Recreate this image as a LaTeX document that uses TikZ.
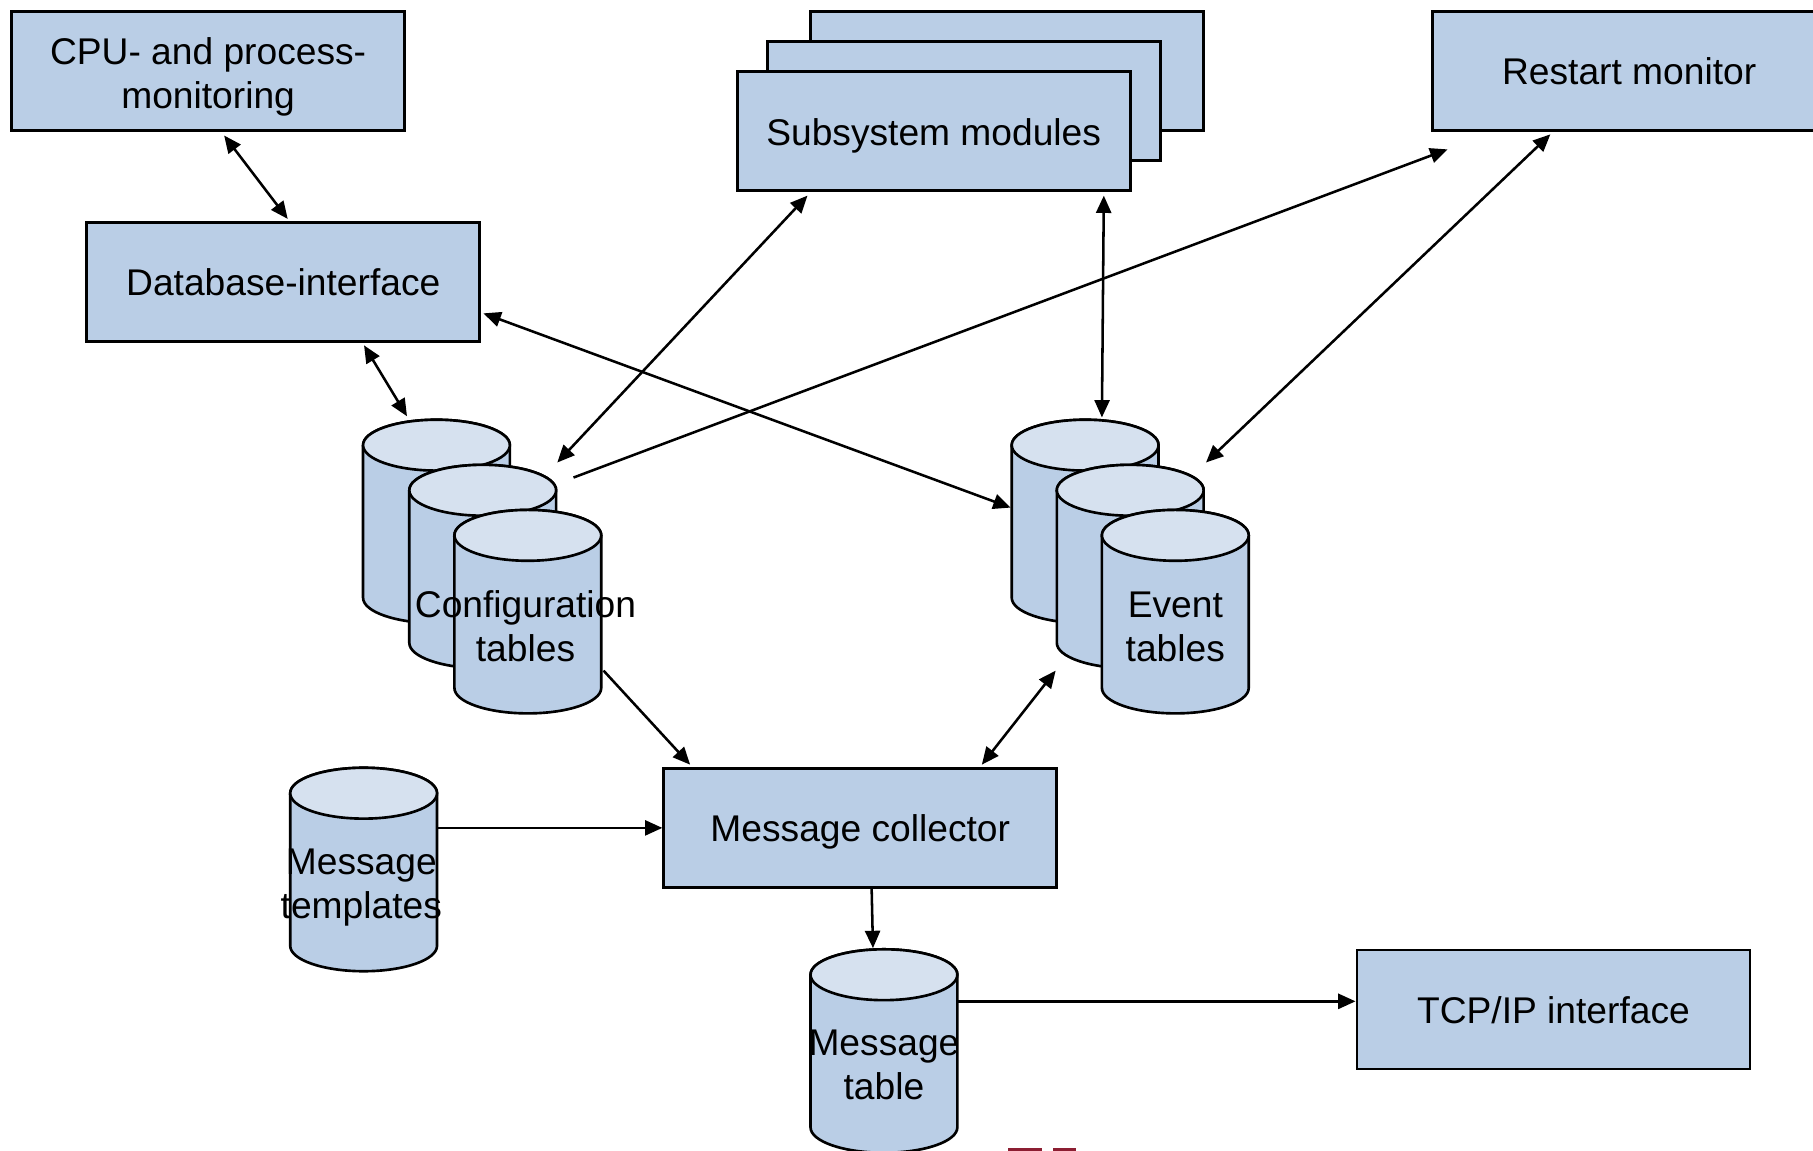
\documentclass[tikz,border=0pt]{standalone}
\usepackage{fontspec}
\setmainfont{Liberation Sans}
\usetikzlibrary{arrows.meta}
\definecolor{boxfill}{HTML}{BACEE6}
\definecolor{topfill}{HTML}{D6E1EF}
\definecolor{maroonmark}{HTML}{8C1E32}
\tikzset{
  box/.style={draw=black, line width=1.35pt, fill=boxfill, rectangle, minimum width=6.8cm, minimum height=2.06cm, inner sep=0pt},
  cylbox/.style={draw=none, rectangle, anchor=north west, minimum width=2.54cm, minimum height=3.52cm, inner sep=0pt, outer sep=0pt},
  cylbody/.style={draw=black, line width=1.3pt, fill=boxfill},
  cyltop/.style={draw=black, line width=1.3pt, fill=topfill},
  lbl/.style={align=center, inner sep=0pt, font=\fontsize{18.3pt}{21.6pt}\selectfont},
  link/.style={draw=black, line width=1.25pt},
  both/.style={link, {Triangle[length=0.3cm,width=0.26cm]}-{Triangle[length=0.3cm,width=0.26cm]}},
  one/.style={link, -{Triangle[length=0.3cm,width=0.26cm]}}
}
\newcommand\dbcyl[3]{%
  \node[cylbox] (#1) at (#2,-#3) {};
  \filldraw[cylbody] ([yshift=-0.44cm]#1.north west) -- ([yshift=0.44cm]#1.south west)
    arc[start angle=180,end angle=360,x radius=1.27cm,y radius=0.44cm]
    -- ([yshift=-0.44cm]#1.north east)
    arc[start angle=0,end angle=180,x radius=1.27cm,y radius=0.44cm] -- cycle;
  \filldraw[cyltop] ([yshift=-0.44cm]#1.north) ellipse[x radius=1.27cm,y radius=0.44cm];
}
\begin{document}
\begin{tikzpicture}[x=0.02cm,y=0.02cm]
\useasboundingbox (0,0) rectangle (1568,-995);
% boxes
\node[box] (cpu) at (180,-61.5) {};
\node[lbl] (cputxt) at ([yshift=-0.1cm]cpu.center) {CPU- and process-\\monitoring};
\node[box] (sub3) at (871,-61.5) {};
\node[box] (sub2) at (834,-87.5) {};
\node[box] (sub1) at (807.5,-113.5) {};
\node[lbl, text height=17pt, text depth=3.4pt] (subtxt) at (sub1.center) {Subsystem modules};
\node[box] (restart) at (1409,-61.5) {};
\node[lbl, text height=17pt, text depth=3.4pt] (restarttxt) at (restart.center) {Restart monitor};
\node[box] (db) at (245,-244) {};
\node[lbl, text height=17pt, text depth=3.4pt] (dbtxt) at (db.center) {Database-interface};
\node[box] (coll) at (744,-716) {};
\node[lbl, text height=17pt, text depth=3.4pt] (colltxt) at (coll.center) {Message collector};
\node[box] (tcp) at (1343.5,-873) {};
\node[lbl, text height=17pt, text depth=3.4pt] (tcptxt) at (tcp.center) {TCP/IP interface};
% cylinders
\dbcyl{cfgA}{314}{363}
\dbcyl{cfgB}{354}{402}
\dbcyl{cfgC}{393}{441}
\node[lbl] (cfgtxt) at ([shift={(-2,-12.5)}]cfgC.center) {Configuration\\tables};
\dbcyl{evA}{875}{363}
\dbcyl{evB}{914}{402}
\dbcyl{evC}{953}{441}
\node[lbl] (evtxt) at ([yshift=-0.26cm]evC.center) {Event\\tables};
\dbcyl{tpl}{251}{664}
\node[lbl] (tpltxt) at ([shift={(-2,-15.5)}]tpl.center) {Message\\templates};
\dbcyl{tbl}{701}{821}
\node[lbl] (tbltxt) at ([yshift=-0.24cm]tbl.center) {Message\\table};
% connectors
\draw[both] ([shift={(185,-3)}]cpu.south west) -- ([shift={(175,2)}]db.north west);
\draw[both] ([shift={(241,-2)}]db.south west) -- ([shift={(38,3)}]cfgA.north west);
\draw[both] ([shift={(62,-3)}]sub1.south west) -- ([shift={(168,-37)}]cfgA.north west);
\draw[one] ([shift={(182,-50)}]cfgA.north west) -- ([shift={(14,-15)}]restart.south west);
\draw[both] ([shift={(2,-27)}]db.east) -- ([shift={(-1,-76)}]evA.north west);
\draw[both] ([shift={(-24,-3)}]sub1.south east) -- ([shift={(78,2)}]evA.north west);
\draw[both] ([shift={(103,-2)}]restart.south west) -- ([shift={(168,-37)}]evA.north west);
\draw[one] ([shift={(129,-139)}]cfgC.north west) -- ([shift={(24,2)}]coll.north west);
\draw[both] ([shift={(-40,-139)}]evC.north west) -- ([shift={(-66,2)}]coll.north east);
\draw[one] ([shift={(127,-52)}]tpl.north west) -- (coll.west);
\draw[one] ([shift={(181,0)}]coll.south west) -- ([shift={(54,1)}]tbl.north west);
\draw[one] ([shift={(127,-45)}]tbl.north west) -- ([shift={(0,7)}]tcp.west);
% cut-off marks at the bottom edge
\draw[maroonmark, line width=0.05cm] (872,-994) -- (901,-994);
\draw[maroonmark, line width=0.05cm] (911,-994) -- (931,-994);
\end{tikzpicture}
\end{document}
